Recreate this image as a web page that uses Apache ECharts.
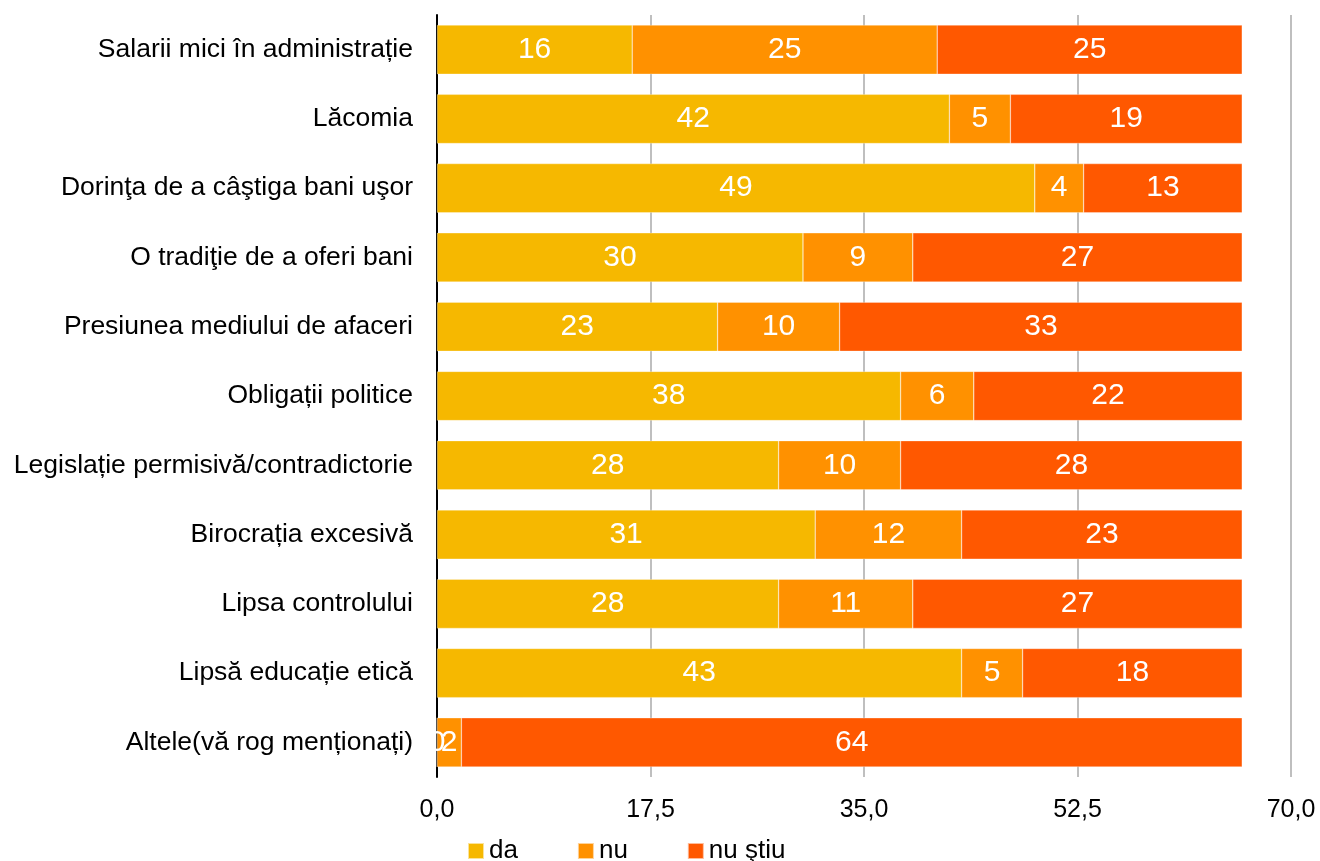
<!DOCTYPE html>
<html>
<head>
<meta charset="utf-8">
<script src="https://cdn.jsdelivr.net/npm/echarts@6/dist/echarts.min.js"></script>
<style>
  html, body { margin: 0; padding: 0; background: #fff; }
  #chart { width: 1320px; height: 861px; }
</style>
</head>
<body>
<div id="chart"></div>
<script>
// Categories, top to bottom
const categories = [
  'Salarii mici în administrație',
  'Lăcomia',
  'Dorinţa de a câştiga bani uşor',
  'O tradiţie de a oferi bani',
  'Presiunea mediului de afaceri',
  'Obligații politice',
  'Legislație permisivă/contradictorie',
  'Birocrația excesivă',
  'Lipsa controlului',
  'Lipsă educație etică',
  'Altele(vă rog menționați)'
];

// Series values
const daValues     = [16, 42, 49, 30, 23, 38, 28, 31, 28, 43, 0];
const nuValues     = [25, 5, 4, 9, 10, 6, 10, 12, 11, 5, 2];
const nuStiuValues = [25, 19, 13, 27, 33, 22, 28, 23, 27, 18, 64];

const seriesNames = ['da', 'nu', 'nu ştiu'];
const seriesColors = ['#F6B800', '#FF9100', '#FF5800'];

// Axis ticks
const axisMin = 0, axisMax = 70, axisStep = 17.5;

const FONT = '"Liberation Sans", Arial, sans-serif';

const chart = echarts.init(document.getElementById('chart'));

function makeSeries(name, data, color) {
  return {
    name: name,
    type: 'bar',
    stack: 'total',
    data: data,
    barCategoryGap: '29%',
    itemStyle: { color: color, borderColor: 'rgba(255,255,255,0.6)', borderWidth: 0.5 },
    label: {
      show: true,
      position: 'inside',
      color: '#fff',
      fontFamily: FONT,
      fontSize: 30
    }
  };
}

chart.setOption({
  animation: false,
  textStyle: { fontFamily: FONT },
  grid: { left: 437, right: 29, top: 15, bottom: 84, containLabel: false },
  legend: {
    left: 462,
    top: 833,
    itemWidth: 16,
    itemHeight: 16,
    itemGap: 59,
    icon: 'rect',
    textStyle: { fontFamily: FONT, fontSize: 26, color: '#000' },
    data: seriesNames
  },
  xAxis: {
    type: 'value',
    min: axisMin,
    max: axisMax,
    interval: axisStep,
    axisLine: { show: false },
    axisTick: { show: false },
    axisLabel: {
      fontFamily: FONT,
      fontSize: 25,
      color: '#000',
      margin: 21,
      formatter: v => v.toFixed(1).replace('.', ',')
    },
    splitLine: { show: true, lineStyle: { color: '#BFBFBF', width: 2 } }
  },
  yAxis: {
    type: 'category',
    inverse: true,
    data: categories,
    axisLine: { show: true, lineStyle: { color: '#000', width: 2 } },
    axisTick: { show: false },
    axisLabel: {
      fontFamily: FONT,
      fontSize: 26.5,
      color: '#000',
      margin: 24
    }
  },
  series: [
    makeSeries(seriesNames[0], daValues, seriesColors[0]),
    makeSeries(seriesNames[1], nuValues, seriesColors[1]),
    makeSeries(seriesNames[2], nuStiuValues, seriesColors[2])
  ]
});
</script>
</body>
</html>
